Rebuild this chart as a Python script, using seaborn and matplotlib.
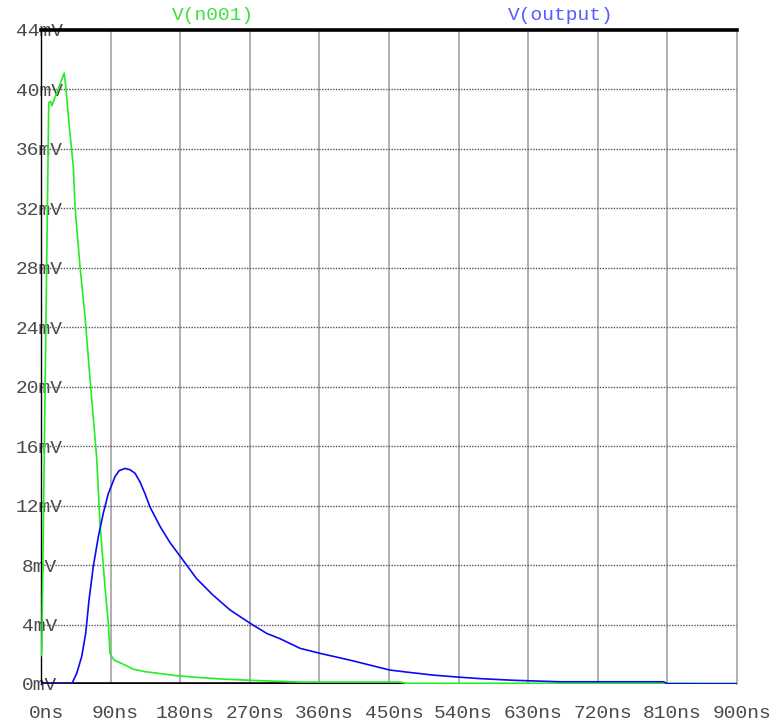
import numpy as np
import pandas as pd
import seaborn as sns
import matplotlib
matplotlib.use("Agg")
import matplotlib.pyplot as plt
from matplotlib import transforms

# ---- data (time in ns, voltage in mV) ----
t_n001 = [0, 1, 10, 12.5, 14, 30, 32, 36.6, 41.8, 44, 50.4, 57, 62.5, 72, 76.3, 82.8, 87, 89.2, 91.4,
          95, 108.6, 119, 134.5, 175.5, 201, 231.5, 270, 335, 464, 471, 810, 900]
v_n001 = [1.9, 2.2, 39.1, 39.2, 38.9, 41.1, 40.2, 37.5, 34.8, 32.1, 28.1, 24.7, 21.1, 15.2, 10.8, 6.5, 4.1, 2.07, 1.84,
          1.6, 1.28, 1.0, 0.83, 0.56, 0.45, 0.34, 0.25, 0.13, 0.13, 0.05, 0.05, 0.03]

t_output = [0, 39.7, 46.2, 52.6, 57.8, 62.1, 67.6, 74.1, 80.6, 87, 95.7, 101, 108.6, 115, 121.6, 128, 134.5,
            141, 154, 167, 182, 201, 222, 244.5, 270, 292, 309, 335, 361, 400, 438.6, 451, 473, 507,
            538, 568, 611, 671, 805, 810, 900]
v_output = [0, 0, 0.72, 1.84, 3.41, 5.65, 7.9, 9.9, 11.5, 12.8, 13.95, 14.35, 14.5, 14.42, 14.18, 13.6, 12.8,
            11.9, 10.6, 9.5, 8.45, 7.1, 6.0, 4.98, 4.1, 3.4, 3.05, 2.4, 2.06, 1.6, 1.1, 0.94, 0.8, 0.6,
            0.47, 0.36, 0.25, 0.15, 0.15, 0.02, 0.02]

x_ticks = [0, 90, 180, 270, 360, 450, 540, 630, 720, 810, 900]
x_labels = ["0ns", "90ns", "180ns", "270ns", "360ns", "450ns", "540ns", "630ns", "720ns", "810ns", "900ns"]
y_ticks = [0, 4, 8, 12, 16, 20, 24, 28, 32, 36, 40, 44]
y_labels = ["0mV", "4mV", "8mV", "12mV", "16mV", "20mV", "24mV", "28mV", "32mV", "36mV", "40mV", "44mV"]
series_names = ["V(n001)", "V(output)"]
zero_line_end = 470

df = pd.concat([
    pd.DataFrame({"t": t_n001, "v": v_n001, "signal": series_names[0]}),
    pd.DataFrame({"t": t_output, "v": v_output, "signal": series_names[1]}),
])

sns.set_style("white")
FONT = "Liberation Mono"
plt.rcParams["font.family"] = [FONT, "DejaVu Sans"]

W, H = 776, 724
fig = plt.figure(figsize=(W / 100, H / 100), dpi=100)
ax = fig.add_axes([41 / W, 40 / H, 696 / W, 654 / H])

line_colors = {series_names[0]: "#22ee22", series_names[1]: "#0a0af5"}
title_colors = {series_names[0]: "#3ee03e", series_names[1]: "#5a5aff"}

# zero line (drawn under curves)
ax.axhline(0, xmin=0, xmax=zero_line_end / 900, color="black", lw=2.6, zorder=1.5)

sns.lineplot(data=df, x="t", y="v", hue="signal", palette=line_colors, estimator=None,
             sort=False, legend=False, ax=ax, lw=1.2, zorder=3)

ax.set_xlim(0, 900)
ax.set_ylim(0, 44)
ax.set_xlabel("")
ax.set_ylabel("")

# grid
for xt in x_ticks[1:-1]:
    ax.axvline(xt, color="#9a9a9a", lw=1.1, zorder=1)
for yt in y_ticks[1:-1]:
    ax.axhline(yt, color="#555555", lw=1.0, ls=(0, (1, 1)), zorder=1)

# spines
ax.spines["top"].set_color("black")
ax.spines["top"].set_linewidth(2.6)
ax.spines["left"].set_color("black")
ax.spines["left"].set_linewidth(1.0)
ax.spines["right"].set_color("#9a9a9a")
ax.spines["right"].set_linewidth(1.1)
ax.spines["bottom"].set_visible(False)

ax.set_xticks(x_ticks)
ax.set_xticklabels(x_labels)
ax.set_yticks(y_ticks)
ax.set_yticklabels(y_labels)

ax.tick_params(axis="x", direction="out", length=9.4, width=0.8, color="#9a9a9a",
               pad=6, labelsize=14, labelcolor="#4a4a4a")
ax.tick_params(axis="y", direction="out", length=2.2, width=1.5, color="black",
               pad=-1.0, labelsize=14, labelcolor="#4a4a4a")
ax.xaxis.get_ticklines()[0].set_color("black")

offset = transforms.ScaledTranslation(5 / 100, 0, fig.dpi_scale_trans)
for lab in ax.get_xticklabels():
    lab.set_transform(lab.get_transform() + offset)
    lab.set_fontfamily(FONT)
for lab in ax.get_yticklabels():
    lab.set_ha("center")
    lab.set_va("center_baseline")
    lab.set_fontfamily(FONT)

# series titles
fig.text(213 / W, 1 - 15 / H, series_names[0], color=title_colors[series_names[0]],
         ha="center", va="center", fontsize=14, family=FONT)
fig.text(561 / W, 1 - 15 / H, series_names[1], color=title_colors[series_names[1]],
         ha="center", va="center", fontsize=14, family=FONT)

fig.savefig("out.png", dpi=100)
